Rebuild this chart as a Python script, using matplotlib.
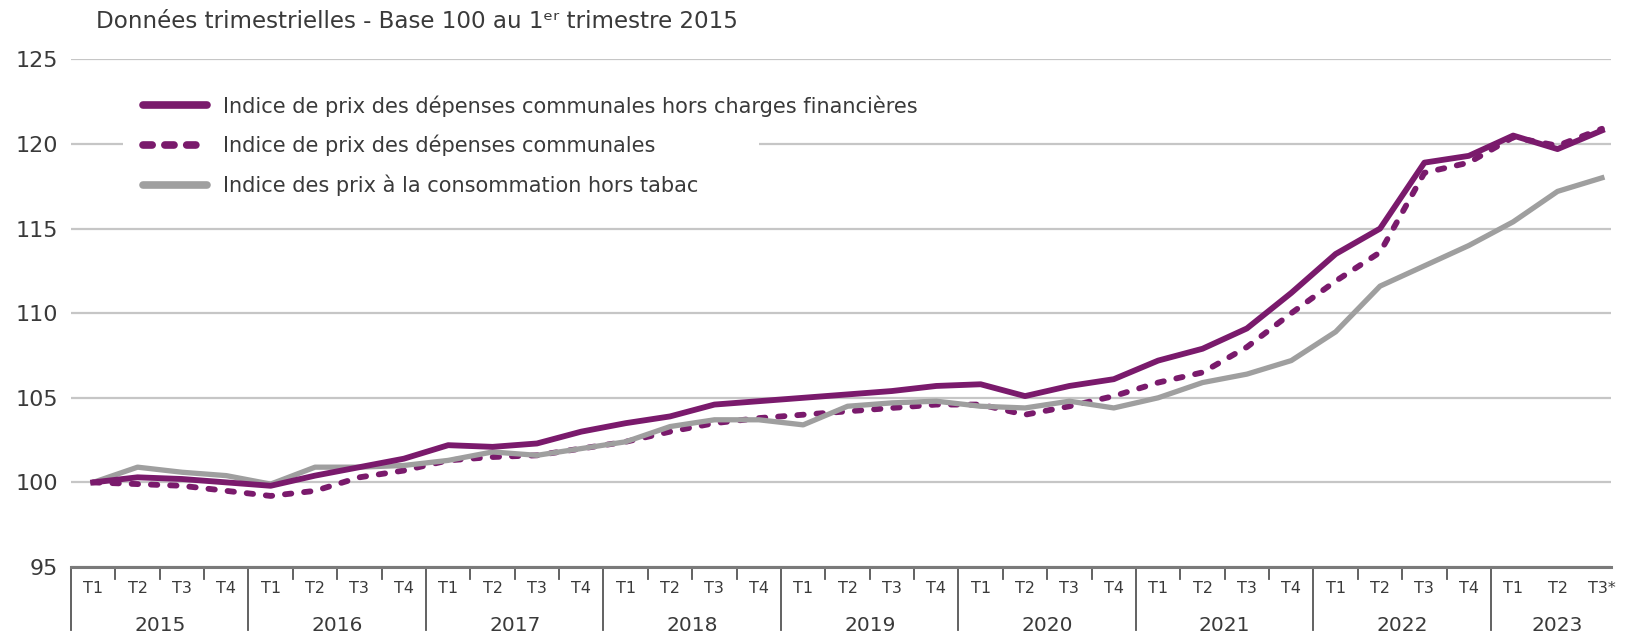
import numpy as np
import matplotlib.pyplot as plt
import matplotlib.transforms as mtransforms
from matplotlib.patches import Rectangle
from matplotlib.lines import Line2D

plt.rcParams['font.family'] = ['DejaVu Sans']

# Quarterly data, base 100 at 2015 Q1
years = ['2015', '2016', '2017', '2018', '2019', '2020', '2021', '2022', '2023']
quarters = (['T1', 'T2', 'T3', 'T4'] * 8) + ['T1', 'T2', 'T3*']

hors_charges = [100.0, 100.3, 100.2, 100.0, 99.8, 100.4, 100.9, 101.4,
                102.2, 102.1, 102.3, 103.0, 103.5, 103.9, 104.6, 104.8,
                105.0, 105.2, 105.4, 105.7, 105.8, 105.1, 105.7, 106.1,
                107.2, 107.9, 109.1, 111.2, 113.5, 115.0, 118.9, 119.3,
                120.5, 119.7, 120.8]
depenses = [100.0, 99.9, 99.8, 99.5, 99.2, 99.5, 100.3, 100.7,
            101.3, 101.5, 101.6, 102.0, 102.4, 103.0, 103.5, 103.8,
            104.0, 104.2, 104.4, 104.6, 104.6, 104.0, 104.5, 105.1,
            105.9, 106.5, 108.0, 110.0, 111.9, 113.6, 118.3, 118.9,
            120.4, 119.9, 120.9]
ipc_hors_tabac = [100.0, 100.9, 100.6, 100.4, 99.9, 100.9, 100.9, 101.0,
                  101.3, 101.8, 101.6, 102.0, 102.4, 103.3, 103.7, 103.7,
                  103.4, 104.5, 104.7, 104.8, 104.5, 104.4, 104.8, 104.4,
                  105.0, 105.9, 106.4, 107.2, 108.9, 111.6, 112.8, 114.0,
                  115.4, 117.2, 118.0]

labels = ["Indice de prix des dépenses communales hors charges financières",
          "Indice de prix des dépenses communales",
          "Indice des prix à la consommation hors tabac"]

purple = '#7a1a6c'
grey = '#9f9f9f'
txt = '#3a3a3a'

x = np.arange(len(quarters))

fig = plt.figure(figsize=(16.32, 6.39), dpi=100)
ax = fig.add_axes([0.0435, 0.1127, 0.9435, 0.7943])

ax.plot(x, depenses, color=purple, lw=4.2, linestyle=(0, (1.1, 2.2)),
        dash_capstyle='round', zorder=3)
ax.plot(x, ipc_hors_tabac, color=grey, lw=3.8, zorder=4)
ax.plot(x, hors_charges, color=purple, lw=4.2, zorder=5)

ax.set_ylim(95, 125)
ax.set_xlim(-0.5, 34.2)
ax.set_yticks(range(95, 126, 5))
ax.tick_params(axis='y', length=0, pad=9, labelsize=16, labelcolor=txt)
ax.set_xticks([])
ax.set_axisbelow(True)
ax.yaxis.grid(True, color='#c6c6c6', lw=1.6)
for s in ['top', 'right', 'left']:
    ax.spines[s].set_visible(False)
ax.spines['bottom'].set_color('#7a7a7a')
ax.spines['bottom'].set_linewidth(2.2)

# category axis below the plot
tr = ax.get_xaxis_transform()
for i, q in enumerate(quarters):
    ax.text(i, -0.042, q, transform=tr, ha='center', va='center',
            fontsize=11.5, color=txt)
for k, yr in enumerate(years):
    start = 4 * k - 0.5
    n = 4 if k < len(years) - 1 else 3
    ax.plot([start, start], [0, -0.125], transform=tr, color='#555555',
            lw=1.3, clip_on=False)
    if n == 4:
        for j in (1, 2, 3):
            ax.plot([start + j, start + j], [0, -0.024], transform=tr,
                    color='#555555', lw=1.3, clip_on=False)
    ax.text(start + n / 2, -0.115, yr, transform=tr, ha='center',
            va='center', fontsize=14.5, color=txt)

# white patch behind legend (cuts the 120 gridline)
tr2 = mtransforms.blended_transform_factory(ax.transAxes, ax.transData)
ax.add_patch(Rectangle((0.034, 118.3), 0.413, 3.6, transform=tr2,
                       facecolor='white', edgecolor='none', zorder=1))

handles = [Line2D([], [], color=purple, lw=5.5, solid_capstyle='round'),
           Line2D([], [], color=purple, lw=5.5, linestyle=(0, (1.2, 1.66)),
                  dash_capstyle='round'),
           Line2D([], [], color=grey, lw=5.5, solid_capstyle='round')]
ax.legend(handles, labels, loc='upper left', bbox_to_anchor=(0.041, 0.947),
          frameon=False, fontsize=15, handlelength=3.08, handletextpad=0.75,
          labelspacing=0.87, borderpad=0.42, borderaxespad=0, labelcolor=txt)

fig.text(96 / 1632, 1 - 21 / 639, "Données trimestrielles - Base 100 au 1ᵉʳ trimestre 2015",
         ha='left', va='center', fontsize=16.6, color=txt)

fig.savefig('out.png', dpi=100)
